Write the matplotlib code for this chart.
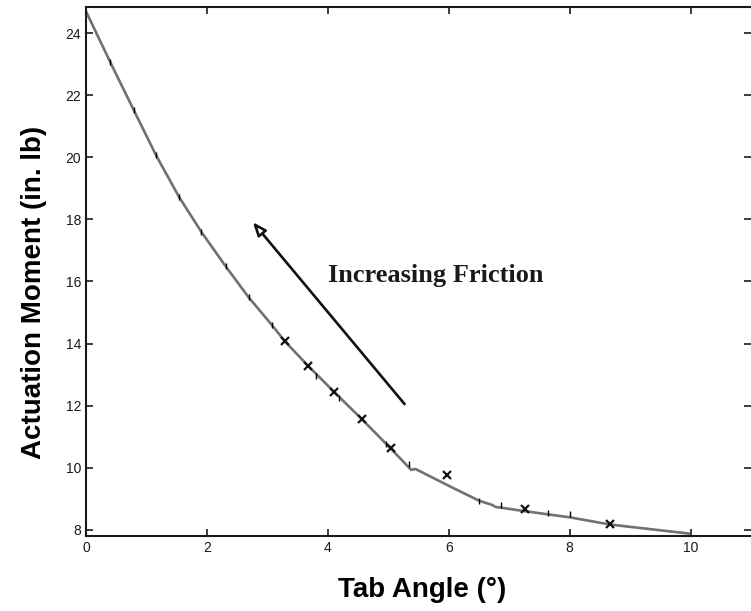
import matplotlib.pyplot as plt

# Fitted actuation moment curve
curve_angle = [0, 0.40, 0.79, 1.16, 1.54, 1.91, 2.31, 2.69, 3.07, 3.29, 3.67, 4.10,
               4.56, 5.04, 5.38, 5.45, 6.06, 6.50, 6.72, 6.77, 7.26, 8.01, 8.67, 9.97]
curve_moment = [24.7, 23.07, 21.52, 20.06, 18.72, 17.59, 16.49, 15.49, 14.61, 14.07, 13.29, 12.45,
                11.57, 10.62, 9.93, 9.96, 9.36, 8.94, 8.80, 8.74, 8.60, 8.40, 8.17, 7.88]

# Sample points shown as short dashes
dash_angle = [0.40, 0.79, 1.16, 1.54, 1.91, 2.31, 2.69, 3.07, 3.81, 4.19, 4.96, 5.35,
              6.50, 6.87, 7.64, 8.01]
dash_moment = [23.07, 21.52, 20.06, 18.72, 17.59, 16.49, 15.49, 14.61, 12.97, 12.24, 10.75, 10.12,
               8.94, 8.80, 8.53, 8.50]

# Measured points
meas_angle = [3.29, 3.67, 4.10, 4.56, 5.04, 5.97, 7.26, 8.67]
meas_moment = [14.07, 13.29, 12.45, 11.57, 10.62, 9.76, 8.67, 8.18]

fig = plt.figure(figsize=(7.51, 6.11), dpi=100)
ax = fig.add_axes([0.1145, 0.1227, 0.8855, 0.8663])

ax.plot(curve_angle, curve_moment, color='#717171', lw=1.9, zorder=2,
        solid_joinstyle='round')
ax.plot(dash_angle, dash_moment, ls='none', marker='|', ms=4, mew=1.0, color='black', zorder=3)
ax.plot(meas_angle, meas_moment, ls='none', marker='x', ms=5.5, mew=1.6, color='#111111', zorder=3)

ax.annotate('', xy=(2.76, 17.91), xytext=(5.27, 12.05),
            arrowprops=dict(arrowstyle='-|>,head_length=0.8,head_width=0.32',
                            fc='white', ec='#111111', lw=1.9, shrinkA=0, shrinkB=0))
ax.text(5.79, 16.19, 'Increasing Friction', ha='center', va='center',
        fontsize=19, fontweight='bold', family='Liberation Serif', color='#1a1a1a')

ax.set_xlim(0, 11)
ax.set_ylim(7.8, 24.85)
ax.set_xticks([0, 2, 4, 6, 8, 10])
ax.set_yticks([8, 10, 12, 14, 16, 18, 20, 22, 24])
ax.tick_params(direction='in', length=5, width=1.2, labelsize=10,
               top=True, right=True, colors='#1a1a1a')
for lab in ax.get_xticklabels() + ax.get_yticklabels():
    lab.set_family('Liberation Sans')
for s in ax.spines.values():
    s.set_linewidth(1.5)
    s.set_color('#1a1a1a')
ax.spines['right'].set_visible(False)

ax.set_xlabel('Tab Angle (°)', fontsize=20, fontweight='bold', family='Liberation Sans', va='center')
ax.xaxis.set_label_coords(0.505, -0.102)
ax.set_ylabel('Actuation Moment (in. lb)', fontsize=20, fontweight='bold', family='Liberation Sans', va='center')
ax.yaxis.set_label_coords(-0.0775, 0.461)

fig.savefig('out.png', dpi=100)
